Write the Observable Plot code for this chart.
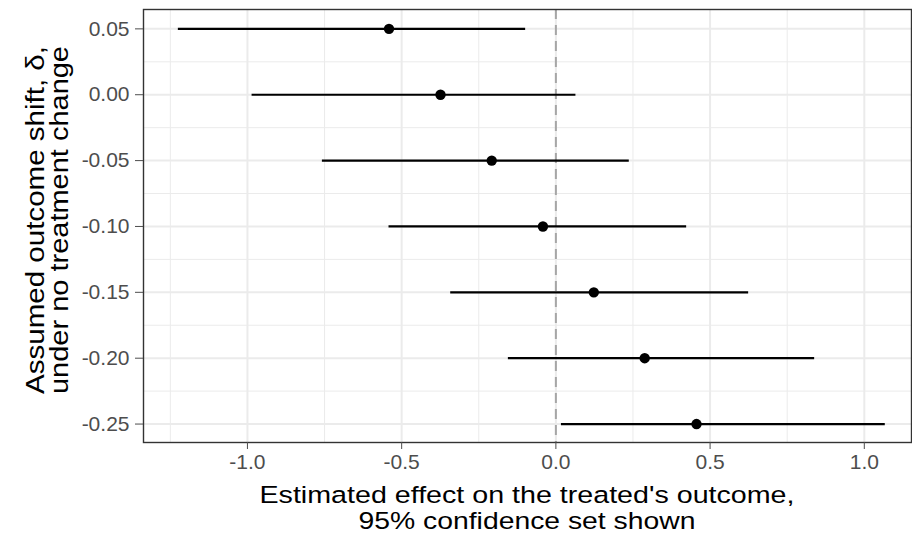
<!DOCTYPE html>
<html><head><meta charset="utf-8">
<script src="https://cdn.jsdelivr.net/npm/d3@7"></script>
<script src="https://cdn.jsdelivr.net/npm/@observablehq/plot@0.6"></script>
<style>body{margin:0;background:#fff}</style>
</head><body><div id="chart"></div>
<script>
const delta = [0.05, 0.00, -0.05, -0.10, -0.15, -0.20, -0.25];
const estimate = [-0.541, -0.374, -0.208, -0.042, 0.123, 0.288, 0.456];
const lower = [-1.224, -0.985, -0.757, -0.541, -0.341, -0.154, 0.018];
const upper = [-0.098, 0.065, 0.238, 0.424, 0.625, 0.839, 1.068];
const xTicks = [-1.0, -0.5, 0.0, 0.5, 1.0];
const xMinor = [-1.25, -0.75, -0.25, 0.25, 0.75];
const yTicks = [0.05, 0.00, -0.05, -0.10, -0.15, -0.20, -0.25];
const yMinor = [0.025, -0.025, -0.075, -0.125, -0.175, -0.225];
const xTitle = ["Estimated effect on the treated's outcome,", "95% confidence set shown"];
const yTitle = ["Assumed outcome shift, δ,", "under no treatment change"];

const data = delta.map((d, i) => ({delta: d, est: estimate[i], lo: lower[i], hi: upper[i]}));
const font = "'Liberation Sans', Arial, Helvetica, sans-serif";

const plot = Plot.plot({
  width: 912, height: 540,
  marginLeft: 143, marginRight: 1, marginTop: 9, marginBottom: 98,
  style: {fontFamily: font, background: "#fff"},
  x: {domain: [-1.337, 1.153]},
  y: {domain: [-0.264, 0.0647]},
  marks: [
    Plot.gridX(xMinor, {stroke: "#ebebeb", strokeOpacity: 1, strokeWidth: 1}),
    Plot.gridY(yMinor, {stroke: "#ebebeb", strokeOpacity: 1, strokeWidth: 1}),
    Plot.gridX(xTicks, {stroke: "#ebebeb", strokeOpacity: 1, strokeWidth: 2}),
    Plot.gridY(yTicks, {stroke: "#ebebeb", strokeOpacity: 1, strokeWidth: 2}),
    Plot.ruleX([0], {stroke: "#a6a6a6", strokeWidth: 2, strokeDasharray: "10,6"}),
    Plot.ruleY(data, {y: "delta", x1: "lo", x2: "hi", stroke: "black", strokeWidth: 2.2}),
    Plot.dot(data, {x: "est", y: "delta", r: 5.2, fill: "black", stroke: null}),
    Plot.frame({stroke: "#333", strokeWidth: 1.4}),
    Plot.axisX(xTicks, {tickFormat: d => d.toFixed(1), tickSize: 7, tickPadding: 5, fontSize: 21, color: "#4d4d4d", label: null}),
    Plot.axisY(yTicks, {tickFormat: d => d.toFixed(2), tickSize: 8, tickPadding: 6, fontSize: 21, color: "#4d4d4d", label: null})
  ]
});

const svg = d3.select(plot);
const px = (143 + 911) / 2, py = 220;
const xLens = [535, 337];
xTitle.forEach((t, i) => {
  svg.append("text").attr("x", px).attr("y", 503 + i * 26)
    .attr("text-anchor", "middle").attr("font-size", 24.5).attr("fill", "#000")
    .attr("font-family", font)
    .attr("textLength", xLens[i]).attr("lengthAdjust", "spacingAndGlyphs")
    .text(t);
});
yTitle.forEach((t, i) => {
  svg.append("text").attr("transform", `translate(${44 + i * 24},${py}) rotate(-90)`)
    .attr("text-anchor", "middle").attr("font-size", 25).attr("fill", "#000")
    .attr("font-family", font)
    .attr("textLength", 348).attr("lengthAdjust", "spacingAndGlyphs")
    .text(t);
});
document.getElementById("chart").appendChild(plot);
</script>
</body></html>
